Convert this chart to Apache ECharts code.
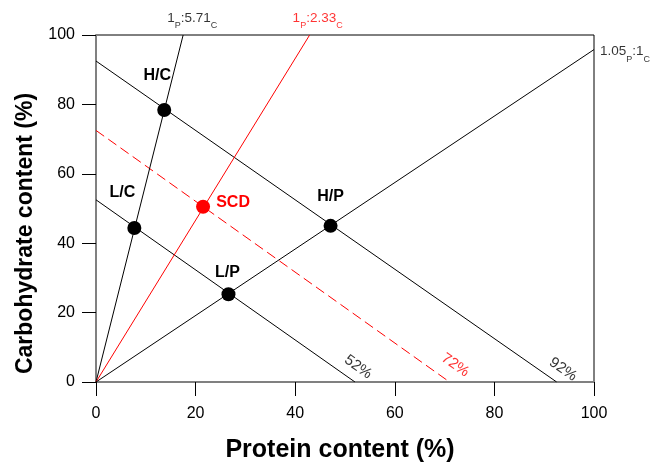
<!DOCTYPE html>
<html>
<head>
<meta charset="utf-8">
<script src="https://cdn.jsdelivr.net/npm/echarts@6/dist/echarts.min.js"></script>
<style>
  * { margin: 0; padding: 0; }
  #chart { width: 660px; height: 462px; }
</style>
</head>
<body>
<div id="chart"></div>
<script>
// ticks
const xTicks = [0, 20, 40, 60, 80, 100];
const yTicks = [0, 20, 40, 60, 80, 100];

// iso-energy lines (protein + carbohydrate = const)
const line52 = [[0, 52.5], [52, 0]];
const line72 = [[0, 72.5], [71, 0]];
const line92 = [[0, 92.5], [92.5, 0]];

// P:C ratio rays
const ratio571 = [[0, 0], [17.5, 100]];
const ratio233 = [[0, 0], [42.9, 100]];
const ratio105 = [[0, 0], [100, 95.8]];

// diet points
const dietNames = ['H/C', 'L/C', 'L/P', 'H/P'];
const dietPoints = [[13.7, 78.4], [7.7, 44.4], [26.6, 25.3], [47.1, 45.0]];
const scdPoint = [21.5, 50.5];

const FONT = 'Liberation Sans, Arial, sans-serif';

const subRich = (color) => ({
    m: { fontSize: 13.5, lineHeight: 16, verticalAlign: 'top', color: color, fontFamily: FONT },
    s: { fontSize: 9, lineHeight: 10, padding: [10, 0, 0, 0], verticalAlign: 'top', color: color, fontFamily: FONT }
});

const labelOffsets = { 'H/C': [-7, -34], 'L/C': [-12, -35], 'L/P': [-1, -22], 'H/P': [0, -29] };

const labelItems = [
    { value: ratio571[1], label: { formatter: '{m|1}{s|P}{m|:5.71}{s|C}', rich: subRich('#000'), offset: [9, -16] } },
    { value: ratio233[1], label: { formatter: '{m|1}{s|P}{m|:2.33}{s|C}', rich: subRich('#ff0000'), offset: [8, -16] } },
    { value: ratio105[1], label: { formatter: '{m|1.05}{s|P}{m|:1}{s|C}', rich: subRich('#000'), offset: [31, 3] } },
    { value: line52[1], label: { formatter: '52%', rotate: -35, offset: [-6, -14], color: '#000' } },
    { value: line72[1], label: { formatter: '72%', rotate: -35, offset: [-5, -17], color: '#ff0000' } },
    { value: line92[1], label: { formatter: '92%', rotate: -35, offset: [-2, -14], color: '#000' } }
];

const lineSeries = (data, color, type) => ({
    type: 'line',
    data: data,
    symbol: 'none',
    silent: true,
    lineStyle: { color: color, width: 1, type: type || 'solid' },
    z: 2
});

const chart = echarts.init(document.getElementById('chart'));
chart.setOption({
    backgroundColor: '#ffffff',
    animation: false,
    grid: {
        left: 96, right: 66, top: 35, bottom: 80,
        outerBoundsMode: 'none', containLabel: false,
        show: true, borderColor: '#000', borderWidth: 1
    },
    xAxis: {
        type: 'value',
        min: xTicks[0], max: xTicks[xTicks.length - 1], interval: 20,
        name: 'Protein content (%)', nameLocation: 'middle', nameGap: 56,
        nameTextStyle: { fontSize: 25, fontWeight: 'bold', color: '#000', fontFamily: FONT, padding: [0, 10, 0, 0] },
        axisLine: { show: true, lineStyle: { color: '#808080', width: 2 } },
        axisTick: { show: true, inside: false, length: 14, lineStyle: { color: '#000', width: 1, opacity: 1 } },
        axisLabel: { fontSize: 16, color: '#000', margin: 24, fontFamily: FONT },
        splitLine: { show: false }
    },
    yAxis: {
        type: 'value',
        min: yTicks[0], max: yTicks[yTicks.length - 1], interval: 20,
        name: 'Carbohydrate content (%)', nameLocation: 'middle', nameGap: 57,
        nameTextStyle: { fontSize: 23, fontWeight: 'bold', color: '#000', fontFamily: FONT, padding: [0, 50, 0, 0] },
        axisLine: { show: true, lineStyle: { color: '#808080', width: 2 } },
        axisTick: { show: true, inside: false, length: 14, lineStyle: { color: '#000', width: 1, opacity: 1 } },
        axisLabel: { fontSize: 16, color: '#000', margin: 21, fontFamily: FONT },
        splitLine: { show: false }
    },
    series: [
        lineSeries(line52, '#000'),
        lineSeries(line92, '#000'),
        lineSeries(line72, '#ff0000', [10, 5]),
        lineSeries(ratio571, '#000'),
        lineSeries(ratio233, '#ff0000'),
        lineSeries(ratio105, '#000'),
        {
            type: 'scatter',
            symbolSize: 14,
            itemStyle: { color: '#000', opacity: 1 },
            z: 5,
            data: dietPoints.map((p, i) => ({
                value: p,
                name: dietNames[i],
                label: {
                    show: true, position: 'inside', formatter: dietNames[i],
                    offset: labelOffsets[dietNames[i]],
                    fontSize: 16, fontWeight: 'bold', color: '#000', fontFamily: FONT
                }
            }))
        },
        {
            type: 'scatter',
            symbolSize: 14,
            itemStyle: { color: '#ff0000', opacity: 1 },
            z: 5,
            data: [{
                value: scdPoint,
                label: {
                    show: true, position: 'inside', formatter: 'SCD', offset: [30, -4],
                    fontSize: 16, fontWeight: 'bold', color: '#ff0000', fontFamily: FONT
                }
            }]
        },
        {
            type: 'scatter',
            symbolSize: 0,
            silent: true,
            itemStyle: { color: 'rgba(0,0,0,0)' },
            label: { show: true, position: 'inside', fontSize: 15, fontFamily: FONT },
            data: labelItems,
            z: 6
        }
    ]
});
</script>
</body>
</html>
